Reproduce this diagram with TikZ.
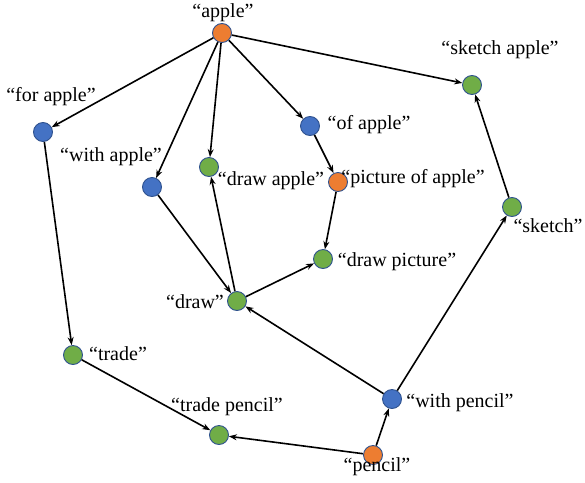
\documentclass[tikz,border=0pt]{standalone}
\usepackage{fontspec}
\setmainfont{Liberation Serif}
\usetikzlibrary{arrows.meta}
\definecolor{cor}{HTML}{ED7D31}
\definecolor{cbl}{HTML}{4472C4}
\definecolor{cgr}{HTML}{70AD47}
\definecolor{cln}{HTML}{2F528F}
\tikzset{
  vtx/.style={circle,draw=cln,line width=0.9pt,minimum size=19pt,inner sep=0pt},
  ov/.style={vtx,fill=cor},
  bv/.style={vtx,fill=cbl},
  gv/.style={vtx,fill=cgr},
  lbl/.style={inner sep=0pt,font=\fontsize{20pt}{22pt}\selectfont},
  arr/.style={-{Stealth[length=8pt,width=6pt]},line width=1.6pt,black}
}
\begin{document}
\begin{tikzpicture}[x=1pt,y=-1pt]
\useasboundingbox (0,0) rectangle (585,482);
% nodes
\node[ov] (apple) at (222,33) {};
\node[gv] (sapple) at (472,85) {};
\node[bv] (fapple) at (43,132) {};
\node[bv] (oapple) at (310,126) {};
\node[bv] (wapple) at (152,187) {};
\node[gv] (dapple) at (209,167) {};
\node[ov] (papple) at (338,182) {};
\node[gv] (sketch) at (512,207) {};
\node[gv] (dpic) at (323,259) {};
\node[gv] (draw) at (237,301) {};
\node[gv] (trade) at (73,355) {};
\node[bv] (wpencil) at (392,399) {};
\node[gv] (tpencil) at (219,435) {};
\node[ov] (pencil) at (373,455) {};
% labels
\node[lbl] (l1) at (223,13) {“apple”};
\node[lbl] (l2) at (500,50) {“sketch apple”};
\node[lbl] (l3) at (51,97) {“for apple”};
\node[lbl] (l4) at (369,125) {“of apple”};
\node[lbl] (l5) at (111,157) {“with apple”};
\node[lbl] (l6) at (271,181) {“draw apple”};
\node[lbl] (l7) at (413,179) {“picture of apple”};
\node[lbl] (l8) at (548,226) {“sketch”};
\node[lbl] (l9) at (397,262) {“draw picture”};
\node[lbl] (l10) at (195,302) {“draw”};
\node[lbl] (l11) at (118,354) {“trade”};
\node[lbl] (l12) at (227,407) {“trade pencil”};
\node[lbl] (l13) at (460,403) {“with pencil”};
\node[lbl] (l14) at (377,467) {“pencil”};
% edges
\draw[arr] (apple) -- (fapple);
\draw[arr] (apple) -- (wapple);
\draw[arr] (apple) -- (dapple);
\draw[arr] (apple) -- (oapple);
\draw[arr] (apple) -- (sapple);
\draw[arr] (oapple) -- (papple);
\draw[arr] (papple) -- (dpic);
\draw[arr] (wapple) -- (draw);
\draw[arr] (draw) -- (dapple);
\draw[arr] (draw) -- (dpic);
\draw[arr] (wpencil) -- (draw);
\draw[arr] (fapple) -- (trade);
\draw[arr] (trade) -- (tpencil);
\draw[arr] (pencil) -- (tpencil);
\draw[arr] (pencil) -- (wpencil);
\draw[arr] (wpencil) -- (sketch);
\draw[arr] (sketch) -- (sapple);
\end{tikzpicture}
\end{document}
